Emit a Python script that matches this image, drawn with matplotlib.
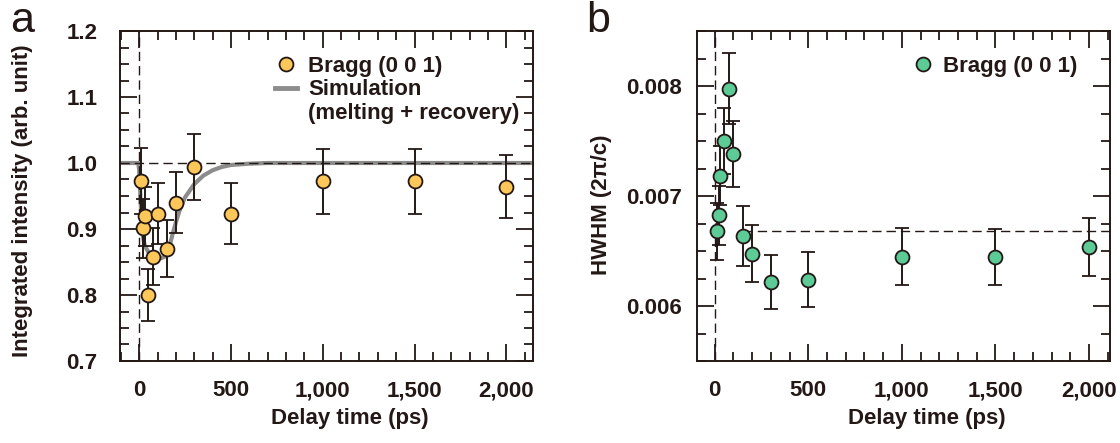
import matplotlib
matplotlib.use("Agg")
import matplotlib.pyplot as plt
from matplotlib.ticker import MultipleLocator, FuncFormatter
from matplotlib.lines import Line2D

plt.rcParams['font.family'] = ['Liberation Sans', 'DejaVu Sans']

# ---------------- data ----------------
delay_ps = [10, 20, 30, 50, 75, 100, 150, 200, 300, 500, 1000, 1500, 2000]

intensity = [0.972, 0.901, 0.919, 0.800, 0.858, 0.923, 0.870, 0.940, 0.994, 0.923, 0.972, 0.972, 0.964]
intensity_err = [0.050, 0.045, 0.045, 0.040, 0.043, 0.046, 0.043, 0.046, 0.050, 0.046, 0.049, 0.049, 0.048]

sim_x = [-110, -5, 0, 10, 20, 30, 50, 80, 110, 140, 160, 180, 200, 220, 250, 300, 350, 400, 450, 500, 600, 700, 800, 2150]
sim_y = [1.0, 1.0, 0.99, 0.93, 0.89, 0.875, 0.865, 0.858, 0.855, 0.858, 0.868, 0.89, 0.91, 0.928, 0.948, 0.968, 0.981,
         0.989, 0.994, 0.997, 0.999, 1.0, 1.0, 1.0]

hwhm = [0.00668, 0.006825, 0.007184, 0.0075, 0.007976, 0.00738, 0.006636, 0.006475, 0.006216, 0.00624, 0.00645,
        0.006444, 0.006536]
hwhm_err = [0.00026, 0.00027, 0.00027, 0.0003, 0.00032, 0.0003, 0.00027, 0.00026, 0.000245, 0.00025, 0.000255,
            0.000255, 0.00026]

intensity_ref = 1.0
hwhm_ref = 0.00668
hwhm_ref_start = 150

x_major = [0, 500, 1000, 1500, 2000]
xlabel = "Delay time (ps)"
ylabel_a = "Integrated intensity (arb. unit)"
ylabel_b = "HWHM (2\u03c0/c)"
legend_a = ["Bragg (0 0 1)", "Simulation", "(melting + recovery)"]
legend_b = ["Bragg (0 0 1)"]

# ---------------- style ----------------
DARK = '#231815'
YELLOW = '#FDC75A'
GREEN = '#5CCB96'
GRAY = '#8C8C8C'
FS = 16
DASH = (0, (6.7, 3.6))

fig = plt.figure(figsize=(11.2, 4.43), dpi=100)
ax_a = fig.add_axes([119.5 / 1120, (443 - 361) / 443, 413.5 / 1120, 330 / 443])
ax_b = fig.add_axes([697 / 1120, (443 - 361) / 443, 413 / 1120, 330 / 443])


def style_axis(ax, xlim, ypad):
    for s in ax.spines.values():
        s.set_linewidth(1.4)
        s.set_color(DARK)
    ax.set_xlim(*xlim)
    ax.set_xticks(x_major)
    ax.xaxis.set_minor_locator(MultipleLocator(100))
    ax.xaxis.set_major_formatter(FuncFormatter(lambda v, p: f"{v:,.0f}"))
    ax.tick_params(which='both', direction='in', top=True, right=True, color=DARK, width=1.3,
                   labelsize=FS, labelcolor=DARK)
    ax.tick_params(which='major', length=12.5)
    ax.tick_params(which='minor', length=6.5)
    ax.tick_params(axis='x', which='major', pad=14)
    ax.tick_params(axis='y', which='major', pad=ypad)
    for lab in ax.get_xticklabels() + ax.get_yticklabels():
        lab.set_fontweight('bold')
    ax.set_xlabel(xlabel, fontsize=FS, fontweight='bold', color=DARK)
    ax.xaxis.set_label_coords(0.556, -0.142)


err_kw = dict(fmt='o', ms=10, mec=DARK, mew=1.3, ecolor=DARK, elinewidth=1.4, capsize=4.8, capthick=1.4, zorder=5)

# ---- panel a ----
ax = ax_a
ax.plot(sim_x, sim_y, color=GRAY, lw=3.0, solid_capstyle='butt', zorder=2)
ax.axhline(intensity_ref, color=DARK, lw=1.0, ls=DASH, zorder=3)
ax.axvline(0, color=DARK, lw=1.0, ls=DASH, zorder=3)
ax.errorbar(delay_ps, intensity, yerr=intensity_err, mfc=YELLOW, **err_kw)
ax.set_ylim(0.7, 1.2)
ax.yaxis.set_major_locator(MultipleLocator(0.1))
ax.yaxis.set_minor_locator(MultipleLocator(0.025))
ax.yaxis.set_major_formatter(FuncFormatter(lambda v, p: f"{v:.1f}"))
style_axis(ax, (-107, 2145), 16)
ax.set_ylabel(ylabel_a, fontsize=FS, fontweight='bold', color=DARK)
ax.yaxis.set_label_coords(-0.209, 0.486)
h_a = [Line2D([], [], ls='none', marker='o', ms=10, mfc=YELLOW, mec=DARK, mew=1.3),
       Line2D([], [], color=GRAY, lw=3.5),
       Line2D([], [], ls='none')]
leg = ax.legend(h_a, legend_a, loc='upper left', bbox_to_anchor=(0.376, 0.925), frameon=False,
                borderpad=0, borderaxespad=0, handlelength=0.98, handletextpad=0.52, labelspacing=0.12,
                prop={'size': FS, 'weight': 'bold'})
for t in leg.get_texts():
    t.set_color(DARK)

# ---- panel b ----
ax = ax_b
ax.axvline(0, color=DARK, lw=1.0, ls=DASH, zorder=3)
ax.plot([hwhm_ref_start, 2112], [hwhm_ref, hwhm_ref], color=DARK, lw=1.0, ls=DASH, zorder=3)
ax.errorbar(delay_ps, hwhm, yerr=hwhm_err, mfc=GREEN, **err_kw)
ax.set_ylim(0.0055, 0.0085)
ax.yaxis.set_major_locator(MultipleLocator(0.001))
ax.yaxis.set_minor_locator(MultipleLocator(0.00025))
ax.yaxis.set_major_formatter(FuncFormatter(lambda v, p: f"{v:.3f}"))
style_axis(ax, (-95, 2112), 11)
ax.set_ylabel(ylabel_b, fontsize=FS, fontweight='bold', color=DARK)
ax.yaxis.set_label_coords(-0.206, 0.473)
h_b = [Line2D([], [], ls='none', marker='o', ms=10, mfc=GREEN, mec=DARK, mew=1.3)]
leg = ax.legend(h_b, legend_b, loc='upper left', bbox_to_anchor=(0.5245, 0.925), frameon=False,
                borderpad=0, borderaxespad=0, handlelength=0.8, handletextpad=0.5,
                prop={'size': FS, 'weight': 'bold'})
for t in leg.get_texts():
    t.set_color(DARK)

# panel letters
fig.text(10 / 1120, 1 - 31.5 / 443, 'a', fontsize=31, color=DARK, va='baseline', ha='left')
fig.text(586 / 1120, 1 - 32.5 / 443, 'b', fontsize=31, color=DARK, va='baseline', ha='left')

fig.savefig('out.png', dpi=100)
